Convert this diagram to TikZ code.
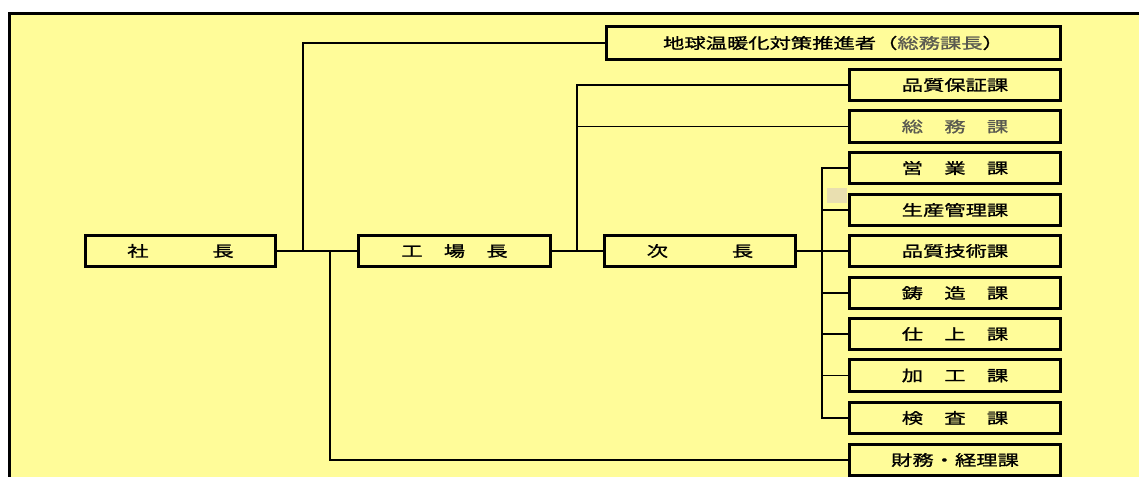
\documentclass[tikz,border=0pt]{standalone}
\usepackage{fontspec}
\newfontfamily\jp[FakeStretch=1.42, FakeBold=1.2]{Noto Sans CJK JP}
\definecolor{bgyellow}{HTML}{FFFC99}
\definecolor{smudge}{HTML}{E9DFB0}
\definecolor{lighttext}{HTML}{5A5A50}
\tikzset{
  orgbox/.style={draw=black, line width=2.8pt, fill=bgyellow, inner sep=0pt,
    minimum height=31.5pt, minimum width=211.5pt, font=\jp\fontsize{15pt}{15pt}\selectfont},
  mainline/.style={line width=2.8pt, line cap=rect},
  subline/.style={line width=1.8pt},
  thinline/.style={line width=1.4pt},
}
\begin{document}
\begin{tikzpicture}[x=1pt,y=-1pt]
\useasboundingbox (0,0) rectangle (1139,477);
% frame
\fill[white] (0,0) rectangle (1139,477);
\fill[bgyellow] (9,13) rectangle (1139,477);
\draw[line width=3pt] (8,13.5) -- (1139,13.5);
\draw[line width=3pt] (9.5,12) -- (9.5,477);
\fill[smudge] (827,188) rectangle (847,203);

% left chain
\node[orgbox, minimum width=190pt] (shacho) at (180.5,251) {社　　　長};
\node[orgbox, minimum width=192pt] (kojo) at (454.5,251) {工　場　長};
\node[orgbox, minimum width=191pt] (jicho) at (700,251) {次　　　長};
\node[orgbox, minimum width=454pt, minimum height=33pt] (ondan) at (833.5,43) {地球温暖化対策推進者（{\color{lighttext}総務課長}）};

% right column
\node[orgbox] (hinsho) at (955,85) {品質保証課};
\node[orgbox] (somu) at (955,126.5) {{\color{lighttext}総　務　課}};
\node[orgbox] (eigyo) at (955,168) {営　業　課};
\node[orgbox] (seisan) at (955,210) {生産管理課};
\node[orgbox] (hingi) at (955,251) {品質技術課};
\node[orgbox] (chuzo) at (955,293) {鋳　造　課};
\node[orgbox] (shiage) at (955,334) {仕　上　課};
\node[orgbox] (kako) at (955,375.5) {加　工　課};
\node[orgbox] (kensa) at (955,418) {検　査　課};
\node[orgbox] (zaimu) at (955,460) {財務・経理課};

% junctions
\coordinate (j1) at (303,251);
\coordinate (j2) at (330,251);
\coordinate (j3) at (577,251);
\coordinate (j4) at (822,251);

% connectors
\draw[mainline] (shacho.east) -- (kojo.west);
\draw[mainline] (j1) |- (ondan.west);
\draw[mainline] (j2) |- (zaimu.west);
\draw[mainline] (kojo.east) -- (jicho.west);
\draw[mainline] (j3) -- (j3 |- hinsho.west);
\draw[thinline] (j3 |- hinsho.west) -- (hinsho.west);
\draw[thinline] (j3 |- somu.west) -- (somu.west);
\draw[mainline] (jicho.east) -- (j4);
\draw[mainline] (j4 |- eigyo.west) -- (j4 |- kensa.west);
\foreach \n in {eigyo,seisan,hingi,chuzo,shiage,kako,kensa}
  \draw[subline] (j4 |- \n.west) -- (\n.west);
\end{tikzpicture}
\end{document}
